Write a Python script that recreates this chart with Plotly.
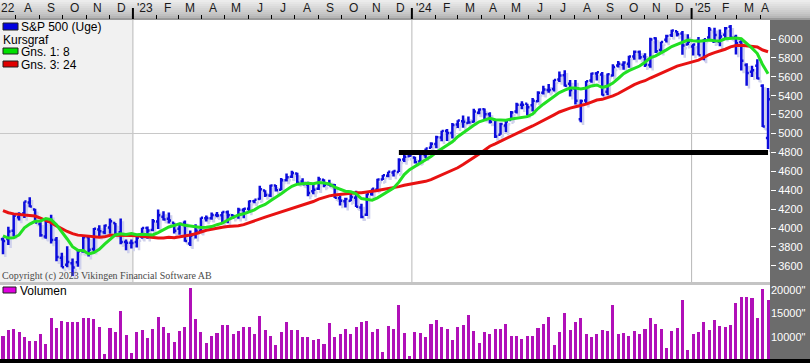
import pandas as pd
import plotly.graph_objects as go

# ---------------- data ----------------
week_end = pd.date_range("2022-07-15", periods=144, freq="W-FRI")

# closes before the visible window (needed for the moving averages)
pre_close = [4432, 4500, 4418, 4349, 4385, 4329, 4204, 4463, 4543, 4546, 4488, 4393,
             4272, 4132, 4123, 4024, 3901, 4158, 4109, 3901, 3675, 3912, 3825, 3899]

open_ = [
    3880, 3883, 3972, 4113, 4155, 4270, 4195, 4042, 3910, 4084, 3875, 3686, 3610, 3627, 3638, 3754, 3901, 3779, 3983, 3956, 4006, 4052, 3954, 3853, 3843,
    3853, 3911, 3999, 3979, 4070, 4120, 4097, 4055, 3992, 4055, 3835, 3933, 3971, 4102, 4104, 4138, 4134, 4166, 4136, 4126, 4190, 4205, 4282, 4308, 4396, 4344,
    4450, 4404, 4505, 4543, 4578, 4492, 4459, 4389, 4415, 4510, 4464, 4454, 4316, 4284, 4289, 4320, 4217, 4140, 4358, 4407, 4512, 4554, 4586, 4593, 4725, 4758,
    4745, 4703, 4772, 4849, 4888, 4957, 5026, 5004, 5094, 5130, 5111, 5123, 5219, 5257, 5204, 5149, 4988, 5085, 5143, 5233, 5305, 5316, 5298, 5341, 5432, 5459,
    5471, 5572, 5616, 5526, 5476, 5151, 5350, 5561, 5636, 5624, 5442, 5615, 5720, 5727, 5737, 5816, 5863, 5816, 5725, 6008, 5883, 5992, 6040, 6083, 6058, 5942,
    5920, 5982, 5800, 6015, 5970, 5970, 6046, 6130, 6022, 5969, 5725, 5653, 5718, 5505, 4953]
high = [
    3900, 4013, 4141, 4167, 4280, 4325, 4203, 4062, 4076, 4140, 3906, 3737, 3807, 3678, 3762, 3905, 3912, 4000, 4028, 4034, 4101, 4052, 4101, 3877, 3878,
    3906, 4003, 4015, 4095, 4195, 4176, 4164, 4055, 4049, 4079, 3973, 4039, 4110, 4133, 4164, 4169, 4171, 4186, 4143, 4213, 4212, 4290, 4299, 4448, 4400, 4458,
    4456, 4528, 4578, 4607, 4585, 4527, 4490, 4458, 4541, 4515, 4511, 4466, 4338, 4319, 4385, 4393, 4256, 4366, 4418, 4521, 4560, 4595, 4609, 4738, 4778, 4793,
    4755, 4799, 4842, 4907, 4975, 5030, 5048, 5111, 5140, 5190, 5180, 5262, 5265, 5264, 5224, 5151, 5114, 5139, 5239, 5325, 5342, 5315, 5375, 5447, 5505, 5523,
    5570, 5655, 5670, 5566, 5566, 5360, 5555, 5643, 5651, 5651, 5636, 5734, 5767, 5765, 5823, 5878, 5878, 5850, 6012, 6018, 5972, 6044, 6099, 6085, 6085, 6049,
    5949, 6022, 6000, 6128, 6120, 6101, 6128, 6147, 6044, 5987, 5744, 5716, 5786, 5520, 5481]
low = [
    3722, 3819, 3911, 4080, 4107, 4219, 4057, 3907, 3887, 3837, 3648, 3584, 3584, 3492, 3591, 3737, 3698, 3750, 3905, 3933, 3939, 3919, 3828, 3764, 3784,
    3794, 3887, 3886, 3965, 3989, 4079, 4047, 3943, 3928, 3855, 3809, 3888, 3951, 4069, 4088, 4114, 4049, 4049, 4099, 4099, 4103, 4166, 4261, 4300, 4328, 4327,
    4385, 4399, 4492, 4528, 4474, 4457, 4335, 4356, 4401, 4430, 4448, 4317, 4238, 4216, 4283, 4223, 4104, 4128, 4340, 4405, 4507, 4537, 4546, 4593, 4699, 4751,
    4682, 4700, 4739, 4844, 4845, 4918, 4920, 4946, 5057, 5061, 5104, 5117, 5203, 5146, 5107, 4953, 4988, 5012, 5143, 5212, 5257, 5191, 5234, 5331, 5412, 5432,
    5445, 5546, 5497, 5391, 5306, 5119, 5306, 5537, 5560, 5402, 5406, 5604, 5698, 5674, 5695, 5780, 5784, 5703, 5696, 5853, 5855, 5963, 6022, 6026, 5832, 5933,
    5825, 5827, 5774, 5997, 5962, 5923, 6004, 6008, 5837, 5667, 5505, 5597, 5573, 5069, 4835]
close = [
    3863, 3962, 4130, 4145, 4280, 4228, 4058, 3924, 4067, 3873, 3693, 3586, 3640, 3583, 3753, 3901, 3771, 3993, 3965, 4026, 4072, 3934, 3852, 3845, 3840,
    3895, 3999, 3973, 4071, 4136, 4090, 4079, 3970, 4046, 3862, 3917, 3971, 4109, 4105, 4138, 4133, 4169, 4136, 4124, 4192, 4205, 4282, 4299, 4410, 4348, 4450,
    4399, 4505, 4536, 4582, 4478, 4464, 4370, 4406, 4516, 4457, 4450, 4320, 4288, 4308, 4327, 4224, 4117, 4358, 4415, 4514, 4559, 4595, 4604, 4719, 4755, 4770,
    4697, 4784, 4840, 4891, 4959, 5027, 5005, 5089, 5137, 5124, 5117, 5234, 5254, 5204, 5123, 4967, 5100, 5128, 5223, 5303, 5305, 5278, 5347, 5432, 5465, 5460,
    5567, 5615, 5505, 5459, 5346, 5344, 5554, 5635, 5648, 5408, 5626, 5703, 5738, 5751, 5815, 5864, 5808, 5729, 5995, 5870, 5969, 6032, 6090, 6051, 5931, 5971,
    5942, 5827, 5997, 6101, 6041, 6026, 6115, 6013, 5955, 5770, 5639, 5668, 5581, 5074, 5363]
volume = [
    10200, 11500, 11700, 11100, 10000, 9100, 9100, 10600, 8500, 14000, 11900, 13400, 13200, 13200, 13200, 14000,
    14000, 13800, 12100, 6400, 11900, 11100, 15500, 10400, 6600, 11100, 11500, 9800, 11700, 14300, 12100, 10800,
    8900, 11300, 12100, 20400, 13800, 11100, 8700, 10200, 10800, 12600, 12600, 10600, 11300, 12100, 12100,
    10600, 14500, 11500, 10200, 8300,
    11100, 13200, 11500, 11500, 10000, 10000, 9400, 9600, 8500, 13000, 10000, 10600, 11700, 10600, 12100, 13200,
    13400, 11100, 11700, 6800, 12300, 11700, 16800, 10800, 6000, 11100, 10800, 10000, 12800, 13600, 12100, 11700,
    9400, 12100, 12600, 14700, 11300, 8700, 11100, 10600, 11700, 11700, 12800, 10200, 10200, 9600, 10200, 10200,
    11900, 12800, 14300,
    8300, 11100, 15100, 11500, 13200, 14000, 10600, 10000, 10600, 11500, 11300, 16800, 10600, 10800, 10200, 11300,
    10600, 11700, 14000, 12800, 11700, 7700, 11300, 11900, 17900, 7200, 10600, 11100, 13200, 11500, 13600, 12300,
    12100, 12600, 17200, 18500, 18500, 18300, 14000, 20200, 17900]

support_dates = ["2023-12-15", "2025-04-11"]
support_level = [4800, 4800]

price_ticks = [3600, 3800, 4000, 4200, 4400, 4600, 4800, 5000, 5200, 5400, 5600, 5800, 6000]
vol_ticks = [10000, 15000, 20000]
vol_ticktext = ['10000"', '15000"', '20000"']
month_labels = ["22", "A", "S", "O", "N", "D",
                "'23", "F", "M", "A", "M", "J", "J", "A", "S", "O", "N", "D",
                "'24", "F", "M", "A", "M", "J", "J", "A", "S", "O", "N", "D",
                "'25", "F", "M", "A"]
year_starts = ["2023-01-01", "2024-01-01", "2025-01-01"]

assert len(open_) == len(high) == len(low) == len(close) == len(volume) == 144

# ---------------- derived ----------------
all_close = pd.Series(pre_close + close, dtype=float)
ma8 = all_close.rolling(8).mean().iloc[len(pre_close):].tolist()
ma24 = all_close.rolling(24).mean().iloc[len(pre_close):].tolist()

W, H = 810, 363
def py(p):
    return 1 - p / H
def pxx(p):
    return p / W

x_start = pd.Timestamp("2022-07-11 02:00")
x_end = pd.Timestamp("2025-04-13 14:00")
month_starts = pd.date_range("2022-07-01", "2025-04-01", freq="MS")

BLUE = "#0c0cdc"
FONT = "Liberation Sans, Arial, sans-serif"

fig = go.Figure()

# shadow of the bars
shift = pd.Timedelta(days=3)
fig.add_trace(go.Ohlc(
    x=week_end + shift,
    open=[v - 30 for v in open_], high=[v - 30 for v in high],
    low=[v - 30 for v in low], close=[v - 30 for v in close],
    increasing=dict(line=dict(color="#cfd1ec", width=2.5)),
    decreasing=dict(line=dict(color="#cfd1ec", width=2.5)),
    tickwidth=0.4, showlegend=False, hoverinfo="skip", xaxis="x", yaxis="y"))

fig.add_trace(go.Ohlc(
    x=week_end, open=open_, high=high, low=low, close=close,
    increasing=dict(line=dict(color=BLUE, width=2.5)),
    decreasing=dict(line=dict(color=BLUE, width=2.5)),
    tickwidth=0.4, showlegend=False, name="S&P 500 (Uge)", xaxis="x", yaxis="y"))

fig.add_trace(go.Scatter(x=week_end, y=ma24, mode="lines",
                         line=dict(color="#e81212", width=3), showlegend=False,
                         xaxis="x", yaxis="y"))
fig.add_trace(go.Scatter(x=week_end, y=ma8, mode="lines",
                         line=dict(color="#22e022", width=3), showlegend=False,
                         xaxis="x", yaxis="y"))
fig.add_trace(go.Scatter(x=support_dates, y=support_level, mode="lines",
                         line=dict(color="#000000", width=5), showlegend=False,
                         xaxis="x", yaxis="y"))

fig.add_trace(go.Bar(x=week_end, y=volume, marker=dict(color="#b010b8", line=dict(width=0)),
                     width=4 * 86400000, showlegend=False, xaxis="x2", yaxis="y2"))

shapes = []
# light grey region before 2023 in price panel
shapes.append(dict(type="rect", xref="x", yref="paper", x0=x_start, x1=year_starts[0],
                   y0=py(282), y1=py(20), fillcolor="#f1f1f1", line=dict(width=0), layer="below"))
# year lines
for ys in year_starts:
    shapes.append(dict(type="line", xref="x", yref="paper", x0=ys, x1=ys, y0=py(282), y1=py(20),
                       line=dict(color="#b8b8b8", width=1), layer="below"))
# 5000 grid line
shapes.append(dict(type="line", xref="paper", yref="y", x0=0, x1=pxx(770), y0=5000, y1=5000,
                   line=dict(color="#c8c8c8", width=1), layer="below"))
# top axis bar gradient
grad = ["#ececec", "#e6e6e6", "#e0e0e0", "#dadada", "#d4d4d4", "#cecece", "#c8c8c8", "#c0c0c0", "#b6b6b6", "#9a9a9a"]
for i, c in enumerate(grad):
    shapes.append(dict(type="rect", xref="paper", yref="paper", x0=0, x1=1,
                       y0=py(2 * i + 2), y1=py(2 * i), fillcolor=c, line=dict(width=0), layer="below"))
# year ticks in axis bar
for ys in year_starts:
    shapes.append(dict(type="line", xref="x", yref="paper", x0=ys, x1=ys, y0=py(19), y1=py(8),
                       line=dict(color="#000000", width=2)))
# gap between panels
shapes.append(dict(type="rect", xref="paper", yref="paper", x0=0, x1=pxx(770), y0=py(285), y1=py(282),
                   fillcolor="#c4c4c4", line=dict(width=0), layer="below"))
# bottom black line
shapes.append(dict(type="rect", xref="paper", yref="paper", x0=0, x1=1, y0=0, y1=py(359),
                   fillcolor="#000000", line=dict(width=0)))

# legend swatches
def swatch(x0, x1, y0, y1, color):
    return dict(type="rect", xref="paper", yref="paper", x0=pxx(x0), x1=pxx(x1), y0=py(y1), y1=py(y0),
                fillcolor=color, line=dict(color="#202020", width=1))
shapes.append(swatch(3, 18, 23, 30, "#0000e0"))
shapes.append(swatch(3, 18, 48, 54, "#00e000"))
shapes.append(swatch(3, 18, 61, 67, "#e00000"))
shapes.append(swatch(3, 16, 287, 293, "#e000e0"))

annotations = []
def label(text, x, y, size=11, color="#000000", family=FONT):
    annotations.append(dict(text=text, xref="paper", yref="paper", x=pxx(x), y=py(y),
                            xanchor="left", yanchor="middle", showarrow=False,
                            font=dict(family=family, size=size, color=color)))
label("S&P 500 (Uge)", 19, 27, 12)
label("Kursgraf", 1, 40, 12)
label("Gns. 1: 8", 19, 52, 12)
label("Gns. 3: 24", 19, 65, 12)
label("Volumen", 18, 291, 12)
label("Copyright (c) 2023 Vikingen Financial Software AB", 0, 276, 10, "#4a4a4a",
      "Liberation Serif, Times New Roman, serif")

# month labels in the top bar, centred on visible part of each month
for ms, txt in zip(month_starts, month_labels):
    me = ms + pd.offsets.MonthBegin(1)
    a = max(ms, x_start)
    b = min(me, x_end)
    mid = a + (b - a) / 2
    annotations.append(dict(text=txt, xref="x", yref="paper", x=mid, y=py(8),
                            xanchor="center", yanchor="middle", showarrow=False,
                            font=dict(family=FONT, size=12, color="#1a1a1a")))

fig.update_layout(
    width=W, height=H, margin=dict(l=0, r=0, t=0, b=0),
    paper_bgcolor="#6c6c6c", plot_bgcolor="#ffffff",
    showlegend=False, bargap=0,
    shapes=shapes, annotations=annotations,
    xaxis=dict(domain=[0, pxx(770)], range=[x_start, x_end], anchor="y", side="top",
               showticklabels=False, showgrid=False, zeroline=False, showline=False,
               tickmode="array", tickvals=list(month_starts), ticks="outside", ticklen=4,
               tickcolor="#000000", tickwidth=1, rangeslider=dict(visible=False)),
    yaxis=dict(domain=[py(282), py(20)], range=[3428.6, 6201], side="right", anchor="x",
               tickmode="array", tickvals=price_ticks, ticks="outside", ticklen=5,
               tickcolor="#ffffff", tickfont=dict(family=FONT, size=11, color="#ffffff"),
               showgrid=False, zeroline=False, showline=False, automargin=False),
    xaxis2=dict(domain=[0, pxx(770)], range=[x_start, x_end], anchor="y2", matches="x",
                showticklabels=False, showgrid=False, zeroline=False, ticks=""),
    yaxis2=dict(domain=[py(359), py(285)], range=[5317, 21064], side="right", anchor="x2",
                tickmode="array", tickvals=vol_ticks, ticktext=vol_ticktext, ticks="",
                tickfont=dict(family=FONT, size=11, color="#ffffff"),
                showgrid=False, zeroline=False, showline=False, automargin=False),
)

fig.write_html("out.html")
